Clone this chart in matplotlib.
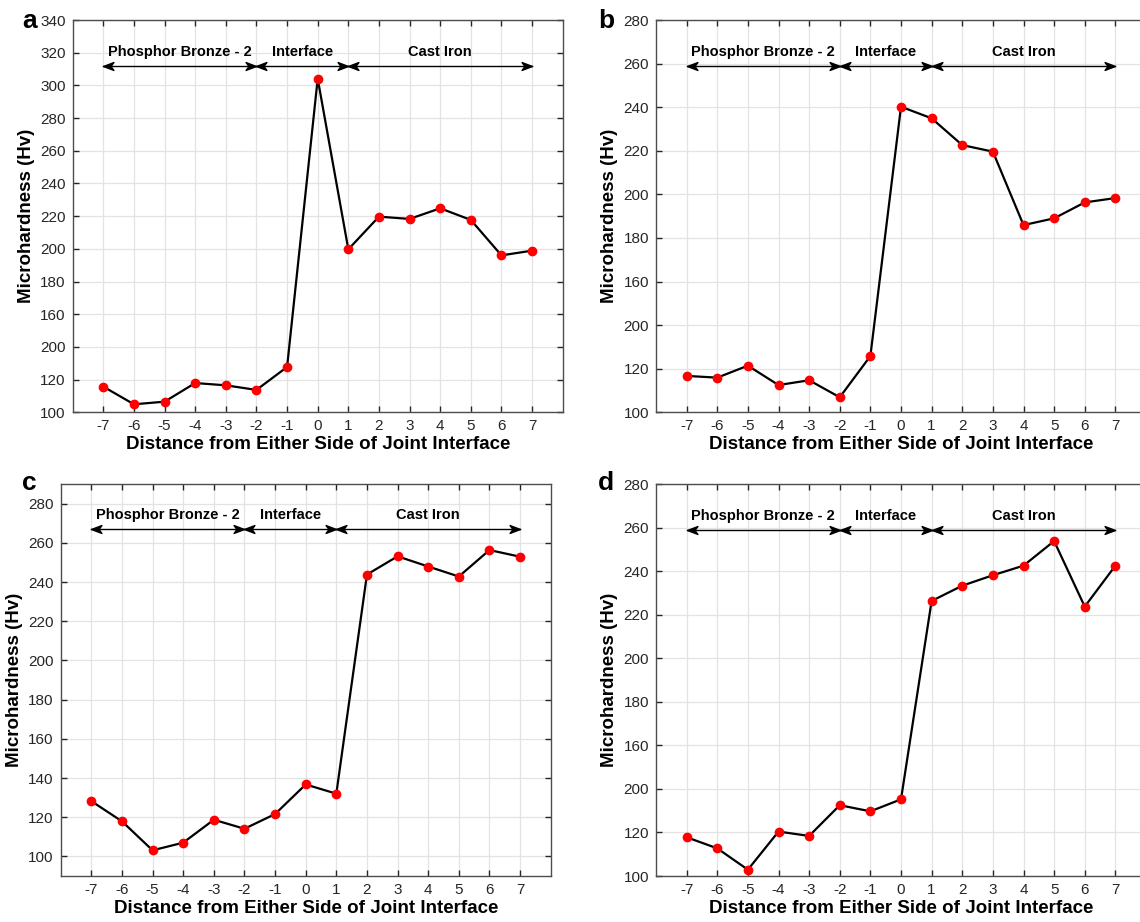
import numpy as np
import matplotlib
matplotlib.use('Agg')
from matplotlib import pyplot as plt
from matplotlib.path import Path

plt.rcParams['font.family'] = ['Liberation Sans', 'DejaVu Sans']

# distance from joint interface
distance = [-7, -6, -5, -4, -3, -2, -1, 0, 1, 2, 3, 4, 5, 6, 7]

# microhardness (Hv) for each panel
hv_a = [115.7, 104.9, 106.5, 117.9, 116.5, 113.7, 127.7, 304.1, 199.7, 219.7, 218.3, 224.8, 217.7, 196.0, 198.9]
hv_b = [116.7, 115.9, 121.4, 112.5, 114.7, 106.9, 125.8, 240.2, 234.9, 222.6, 219.6, 185.9, 189.0, 196.3, 198.3]
hv_c = [128.2, 117.9, 103.1, 107.0, 118.7, 114.1, 121.6, 136.7, 132.0, 243.8, 253.1, 247.9, 242.8, 256.3, 252.9]
hv_d = [117.8, 112.7, 102.9, 120.4, 118.4, 132.5, 129.7, 135.2, 226.3, 233.3, 238.1, 242.5, 253.8, 223.7, 242.5]

# y tick values and the labels as printed (140 printed as 200 in a, b, d)
yticks_a = [100, 120, 140, 160, 180, 200, 220, 240, 260, 280, 300, 320, 340]
ylabels_a = ['100', '120', '200', '160', '180', '200', '220', '240', '260', '280', '300', '320', '340']
yticks_bcd = [100, 120, 140, 160, 180, 200, 220, 240, 260, 280]
ylabels_bd = ['100', '120', '200', '160', '180', '200', '220', '240', '260', '280']
ylabels_c = ['100', '120', '140', '160', '180', '200', '220', '240', '260', '280']

regions = ['Phosphor Bronze - 2', 'Interface', 'Cast Iron']
region_edges = [-7, -2, 1, 7]

# swept-back arrow heads, tip at the marker origin
head_r = Path([(0, 0), (-1, 0.38), (-0.72, 0), (-1, -0.38), (0, 0)],
              [Path.MOVETO, Path.LINETO, Path.LINETO, Path.LINETO, Path.CLOSEPOLY])
head_l = Path([(0, 0), (1, 0.38), (0.72, 0), (1, -0.38), (0, 0)],
              [Path.MOVETO, Path.LINETO, Path.LINETO, Path.LINETO, Path.CLOSEPOLY])

W, H = 1140, 922
fig = plt.figure(figsize=(W / 100, H / 100), dpi=100)


def make_axes(left, top, right, bottom):
    return fig.add_axes([left / W, 1 - bottom / H, (right - left) / W, (bottom - top) / H])


panels = [
    # letter, axes box (px), data, ylim, ticks, labels, arrow y, letter pos
    ('a', (72.7, 20, 562.7, 412.3), hv_a, (100, 340), yticks_a, ylabels_a, 312, (22, 28)),
    ('b', (656, 20, 1146, 412.3), hv_b, (100, 280), yticks_bcd, ylabels_bd, 259, (598, 28)),
    ('c', (60.7, 484, 550.7, 876), hv_c, (90, 290), yticks_bcd, ylabels_c, 267, (22, 490)),
    ('d', (656, 484, 1146, 876), hv_d, (100, 280), yticks_bcd, ylabels_bd, 259, (598, 490)),
]

for letter, box, hv, ylim, yt, yl, arrow_y, lpos in panels:
    ax = make_axes(*box)
    ax.plot(distance, hv, color='black', linewidth=1.6, marker='o',
            markersize=6, markerfacecolor='red', markeredgecolor='red', zorder=3)
    ax.set_xlim(-8, 8)
    ax.set_ylim(*ylim)
    ax.set_xticks(distance)
    ax.set_xticklabels([str(d) for d in distance])
    ax.set_yticks(yt)
    ax.set_yticklabels(yl)
    ax.grid(True, color='#e3e3e3', linewidth=0.9)
    ax.set_axisbelow(True)
    ax.tick_params(direction='in', length=4, width=1, top=True, right=True,
                   labelsize=11, colors='#262626', pad=5)
    for s in ax.spines.values():
        s.set_color('#4d4d4d')
        s.set_linewidth(1.0)
    ax.set_xlabel('Distance from Either Side of Joint Interface', fontsize=13.5,
                  fontweight='bold', labelpad=2)
    ax.set_ylabel('Microhardness (Hv)', fontsize=13.5, fontweight='bold', labelpad=4)

    for i, name in enumerate(regions):
        x0, x1 = region_edges[i], region_edges[i + 1]
        ax.plot([x0, x1], [arrow_y, arrow_y], color='black', linewidth=1.0, zorder=4)
        ax.plot(x1, arrow_y, marker=head_r, markersize=15, color='black', zorder=4)
        ax.plot(x0, arrow_y, marker=head_l, markersize=15, color='black', zorder=4)
        ax.annotate(name, xy=((x0 + x1) / 2, arrow_y), xytext=(0, 10),
                    textcoords='offset points', ha='center', va='center',
                    fontsize=10.5, fontweight='bold')

    fig.text(lpos[0] / W, 1 - lpos[1] / H, letter, fontsize=19, fontweight='bold',
             ha='left', va='baseline')

fig.savefig('out.png', dpi=100)
